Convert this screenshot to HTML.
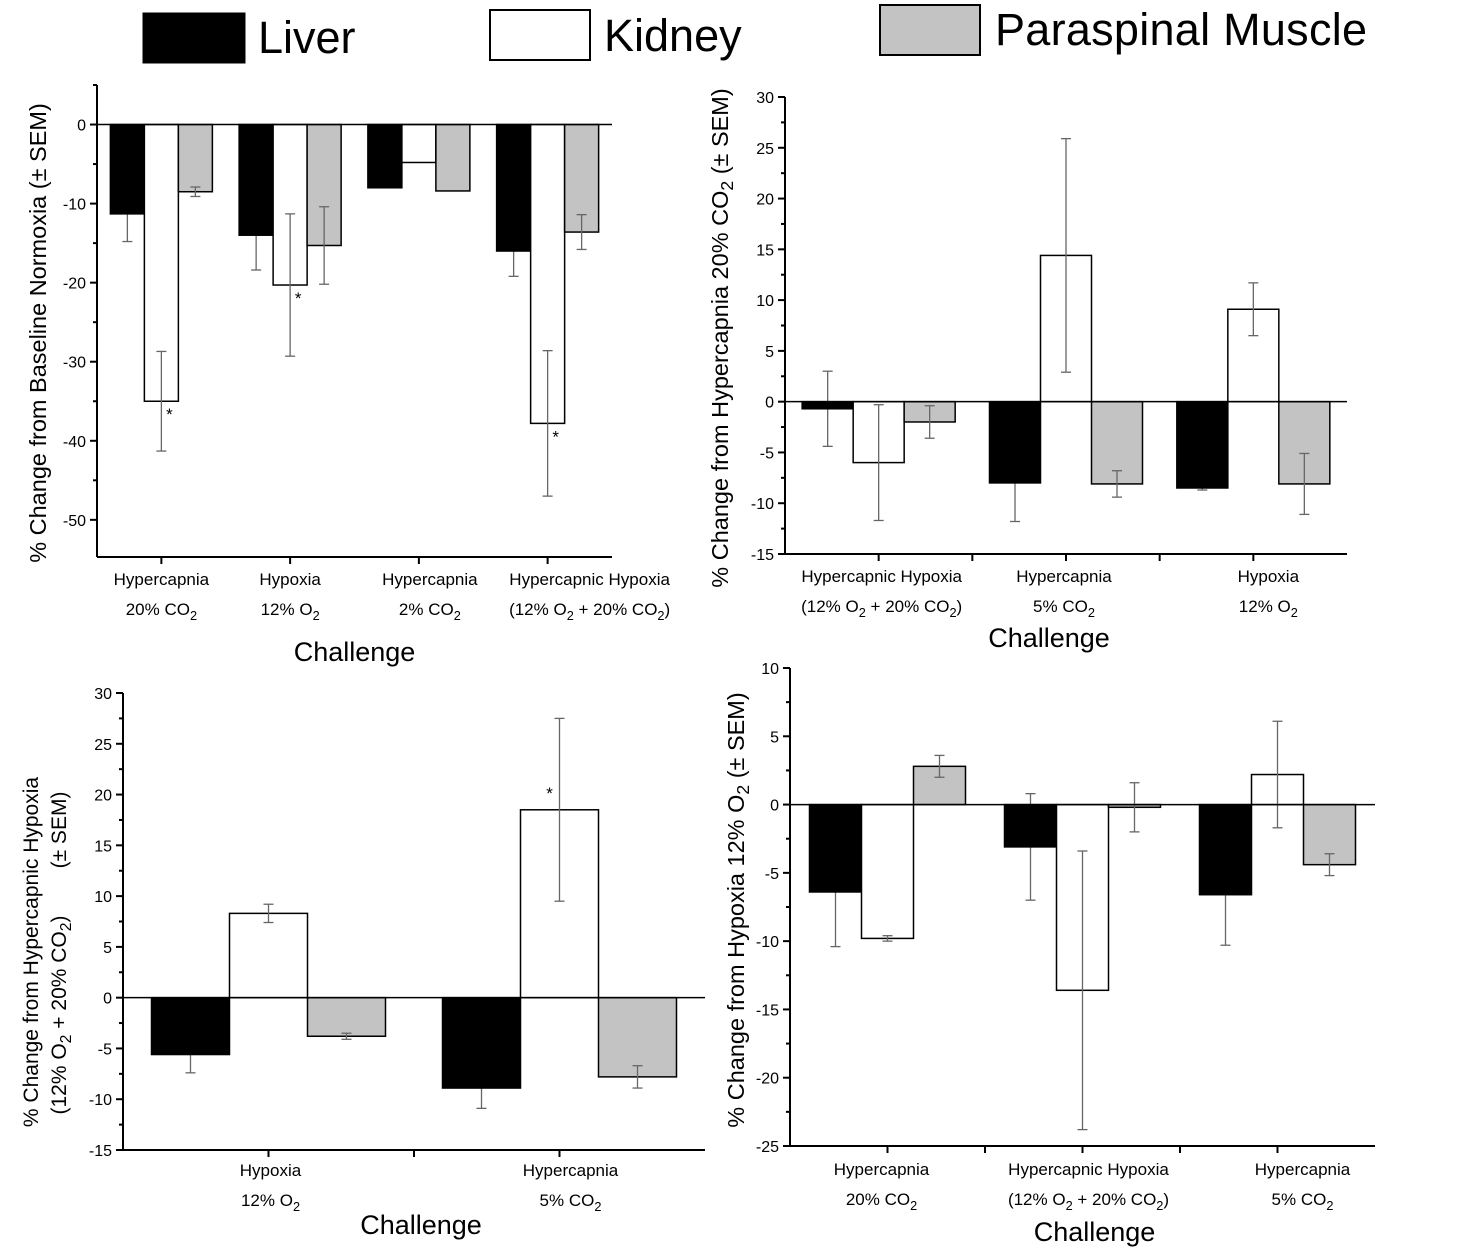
<!DOCTYPE html>
<html><head><meta charset="utf-8"><style>
body{margin:0;background:#fff}
svg{display:block;font-family:"Liberation Sans",Arial,sans-serif}
</style></head><body>
<svg id="chart" width="1480" height="1255" viewBox="0 0 1480 1255">
<g>
<rect x="143" y="13" width="102" height="50" fill="#000" stroke="#000"/>
<text x="258" y="53" font-size="45">Liver</text>
<rect x="490" y="10" width="100" height="50" fill="#fff" stroke="#000" stroke-width="2"/>
<text x="604" y="51" font-size="45">Kidney</text>
<rect x="880" y="5" width="100" height="50" fill="#c3c3c3" stroke="#000" stroke-width="2"/>
<text x="995" y="45" font-size="45" textLength="372">Paraspinal Muscle</text>
</g>
</svg>
<script>
// Panel A data
const catsA = [["Hypercapnia","20% CO_2"],["Hypoxia","12% O_2"],["Hypercapnia","2% CO_2"],["Hypercapnic Hypoxia","(12% O_2 + 20% CO_2)"]];
const liverA = [-11.3,-14,-8,-16];
const kidneyA = [-35,-20.3,-4.8,-37.8];
const muscleA = [-8.5,-15.3,-8.4,-13.6];
const liverErrA = [3.5,4.4,0,3.2];
const kidneyErrA = [6.3,9,0,9.2];
const muscleErrA = [0.6,4.9,0,2.2];
const ticksA = [0,-10,-20,-30,-40,-50];
// Panel B data
const catsB = [["Hypercapnic Hypoxia","(12% O_2 + 20% CO_2)"],["Hypercapnia","5% CO_2"],["Hypoxia","12% O_2"]];
const liverB = [-0.7,-8,-8.5];
const kidneyB = [-6,14.4,9.1];
const muscleB = [-2,-8.1,-8.1];
const liverErrB = [3.7,3.8,0.2];
const kidneyErrB = [5.7,11.5,2.6];
const muscleErrB = [1.6,1.3,3];
const ticksB = [30,25,20,15,10,5,0,-5,-10,-15];
// Panel C data
const catsC = [["Hypoxia","12% O_2"],["Hypercapnia","5% CO_2"]];
const liverC = [-5.6,-8.9];
const kidneyC = [8.3,18.5];
const muscleC = [-3.8,-7.8];
const liverErrC = [1.8,2];
const kidneyErrC = [0.9,9];
const muscleErrC = [0.3,1.1];
const ticksC = [30,25,20,15,10,5,0,-5,-10,-15];
// Panel D data
const catsD = [["Hypercapnia","20% CO_2"],["Hypercapnic Hypoxia","(12% O_2 + 20% CO_2)"],["Hypercapnia","5% CO_2"]];
const liverD = [-6.4,-3.1,-6.6];
const kidneyD = [-9.8,-13.6,2.2];
const muscleD = [2.8,-0.2,-4.4];
const liverErrD = [4,3.9,3.7];
const kidneyErrD = [0.2,10.2,3.9];
const muscleErrD = [0.8,1.8,0.8];
const ticksD = [10,5,0,-5,-10,-15,-20,-25];

const NS="http://www.w3.org/2000/svg";
const svg=document.getElementById('chart');
function mk(tag,attrs,parent){const e=document.createElementNS(NS,tag);for(const k in attrs)e.setAttribute(k,attrs[k]);(parent||svg).appendChild(e);return e;}
function fillSub(t,str,size){
  str.split(/(_2)/).forEach(p=>{
    if(p==='_2'){const s=mk('tspan',{'font-size':size*0.75,dy:5},t);s.textContent='2';const r=mk('tspan',{dy:-5},t);r.textContent='\u200b';}
    else if(p){const s=mk('tspan',{},t);s.textContent=p;}
  });
}
function subText(parent,x,y,str,size){
  const t=mk('text',{x:x,y:y,'font-size':size,'text-anchor':'middle'},parent);
  fillSub(t,str,size);
  return t;
}
function panel(cfg){
  const g=mk('g',{});
  
  
  const y=v=>cfg.yTop+(cfg.vmax-v)/(cfg.vmax-cfg.vmin)*(cfg.yBot-cfg.yTop);
  const n=cfg.cats.length, gw=(cfg.x1-cfg.x0)/n;
  const ya=mk('line',{x1:cfg.x0,y1:cfg.yTop,x2:cfg.x0,y2:cfg.yBot,stroke:'#000','stroke-width':2},g);
  
  const xa=mk('line',{x1:cfg.x0,y1:cfg.yBot,x2:cfg.x1,y2:cfg.yBot,stroke:'#000','stroke-width':2},g);
  
  const step=cfg.ticks[0]-cfg.ticks[1];
  cfg.ticks.forEach((t,i)=>{
    const yy=y(t);
    mk('line',{x1:cfg.x0-7,y1:yy,x2:cfg.x0,y2:yy,stroke:'#000','stroke-width':2},g);
    const tl=mk('text',{x:cfg.x0-11,y:yy+6,'font-size':16,'text-anchor':'end'},g);
    tl.textContent=t;
    
    if(i<cfg.ticks.length-1){const ym=y(t-step/2);mk('line',{x1:cfg.x0-4,y1:ym,x2:cfg.x0,y2:ym,stroke:'#000','stroke-width':2},g);}
  });
  if(cfg.vmax>cfg.ticks[0]){const ym=y(cfg.ticks[0]+step/2);mk('line',{x1:cfg.x0-4,y1:ym,x2:cfg.x0,y2:ym,stroke:'#000','stroke-width':2},g);}
  const bw=cfg.bw;
  const series=[[cfg.liver,cfg.liverErr,'#000','liver'],[cfg.kidney,cfg.kidneyErr,'#fff','kidney'],[cfg.muscle,cfg.muscleErr,'#c3c3c3','muscle']];
  cfg.cats.forEach((c,i)=>{
    const cx=cfg.x0+gw*(i+0.5);
    mk('line',{x1:cx,y1:cfg.yBot,x2:cx,y2:cfg.yBot+7,stroke:'#000','stroke-width':2},g);
    if(i>0 && cfg.bTicks) mk('line',{x1:cfg.x0+gw*i,y1:cfg.yBot,x2:cfg.x0+gw*i,y2:cfg.yBot+7,stroke:'#000','stroke-width':2},g);
    const lx=cx+(cfg.labDx?cfg.labDx[i]:0);
    const l1=subText(g,lx,cfg.labY,c[0],17);
    
    const l2=subText(g,lx,cfg.labY+30,c[1],17);
    
    series.forEach((s,j)=>{
      const v=s[0][i], e=s[1][i];
      const bx=cx+(j-1.5)*bw;
      const drawErr=()=>{
        if(e>0){
          const ex=bx+bw/2;
          const eg=mk('g',{stroke:'#666','stroke-width':1.3},g);
          
          
          mk('line',{x1:ex,y1:y(v+e),x2:ex,y2:y(v-e)},eg);
          mk('line',{x1:ex-5,y1:y(v+e),x2:ex+5,y2:y(v+e)},eg);
          mk('line',{x1:ex-5,y1:y(v-e),x2:ex+5,y2:y(v-e)},eg);
        }
      };
      if(j===0) drawErr();
      const r=mk('rect',{x:bx,y:Math.min(y(v),y(0)),width:bw,height:Math.abs(y(v)-y(0)),fill:s[2],stroke:'#000','stroke-width':1.5},g);
      
      
      if(j!==0) drawErr();
      if(cfg.stars && j===1 && cfg.stars[i]){
        const st=mk('text',{x:bx+bw/2+cfg.starDx,y:v<0?y(v)+19:y(v)-11,'font-size':17,'text-anchor':'middle'},g);
        st.textContent='*';
        
      }
    });
  });
  const z=mk('line',{x1:cfg.x0,y1:y(0),x2:cfg.x1,y2:y(0),stroke:'#000','stroke-width':1.5},g);
  
  const xt=mk('text',{x:(cfg.x0+cfg.x1)/2+(cfg.xtDx||0),y:cfg.xtY,'font-size':27,'text-anchor':'middle'},g);
  xt.textContent='Challenge';
  
  cfg.ytitle.forEach(ln=>{
    const t=mk('text',{x:0,y:0,'font-size':ln.fs,'text-anchor':'middle',transform:`translate(${ln.x},${ln.y}) rotate(-90)`},g);
    fillSub(t,ln.parts,ln.fs);
    
  });
}
panel({name:'panel-baseline-normoxia',x0:97,x1:612,yTop:85,yBot:557,vmax:5,vmin:-54.7,ticks:ticksA,bw:34,cats:catsA,
  liver:liverA,kidney:kidneyA,muscle:muscleA,liverErr:liverErrA,kidneyErr:kidneyErrA,muscleErr:muscleErrA,
  stars:[true,true,false,true],starDx:8,labY:585,labDx:[0,0,11,42],xtY:661,bTicks:false,
  ytitle:[{x:46,y:333,fs:23.5,parts:'% Change from Baseline Normoxia (\u00b1 SEM)'}]});
panel({name:'panel-hypercapnia-20',x0:785,x1:1347,yTop:97,yBot:554,vmax:30,vmin:-15,ticks:ticksB,bw:51,cats:catsB,
  liver:liverB,kidney:kidneyB,muscle:muscleB,liverErr:liverErrB,kidneyErr:kidneyErrB,muscleErr:muscleErrB,
  labY:582,labDx:[3,-2,15],xtY:647,xtDx:-17,bTicks:true,
  ytitle:[{x:728,y:338,fs:23.5,parts:'% Change from Hypercapnia 20% CO_2 (\u00b1 SEM)'}]});
panel({name:'panel-hypercapnic-hypoxia',x0:123,x1:705,yTop:693,yBot:1150,vmax:30,vmin:-15,ticks:ticksC,bw:78,cats:catsC,
  liver:liverC,kidney:kidneyC,muscle:muscleC,liverErr:liverErrC,kidneyErr:kidneyErrC,muscleErr:muscleErrC,
  stars:[false,true],starDx:-10,labY:1176,labDx:[2,11],xtY:1234,xtDx:7,bTicks:true,
  ytitle:[{x:38,y:952,fs:21,parts:'% Change from Hypercapnic Hypoxia'},{x:66,y:1015,fs:21,parts:'(12% O_2 + 20% CO_2)'},{x:66,y:830,fs:21,parts:'(\u00b1 SEM)'}]});
panel({name:'panel-hypoxia-12',x0:790,x1:1375,yTop:668,yBot:1146,vmax:10,vmin:-25,ticks:ticksD,bw:52,cats:catsD,
  liver:liverD,kidney:kidneyD,muscle:muscleD,liverErr:liverErrD,kidneyErr:kidneyErrD,muscleErr:muscleErrD,
  labY:1175,labDx:[-6,6,25],xtY:1241,xtDx:12,bTicks:true,
  ytitle:[{x:744,y:910,fs:23.5,parts:'% Change from Hypoxia 12% O_2 (\u00b1 SEM)'}]});
</script>
</body></html>
